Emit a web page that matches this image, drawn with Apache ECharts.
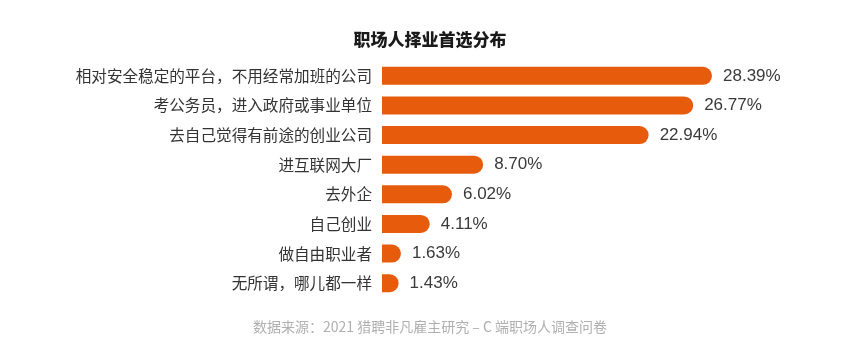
<!DOCTYPE html>
<html>
<head>
<meta charset="utf-8">
<script src="https://cdn.jsdelivr.net/npm/echarts@6/dist/echarts.min.js"></script>
<style>html,body{margin:0;padding:0;background:#fff;}#c{width:860px;height:347px;}</style>
</head>
<body>
<div id="c"></div>
<script>
const categories = [
  '相对安全稳定的平台，不用经常加班的公司',
  '考公务员，进入政府或事业单位',
  '去自己觉得有前途的创业公司',
  '进互联网大厂',
  '去外企',
  '自己创业',
  '做自由职业者',
  '无所谓，哪儿都一样'
];
const values = [28.39, 26.77, 22.94, 8.70, 6.02, 4.11, 1.63, 1.43];
const titleText = '职场人择业首选分布';
const sourceText = '数据来源：2021 猎聘非凡雇主研究 – C 端职场人调查问卷';

const font = '"Noto Sans CJK SC", "Noto Sans", sans-serif';
const numFont = '"Liberation Sans", Arial, sans-serif';
const chart = echarts.init(document.getElementById('c'), null, {renderer: 'canvas'});
chart.setOption({
  backgroundColor: '#fff',
  animation: false,
  title: [
    {text: titleText, left: 'center', top: 26,
     textStyle: {fontFamily: font, fontSize: 17, fontWeight: 900, color: '#1a1a1a'}},
    {text: sourceText, left: 'center', top: 315,
     textStyle: {fontFamily: font, fontSize: 14, fontWeight: 'normal', color: '#b0b0b0'}}
  ],
  grid: {left: 382, right: 148, top: 61, bottom: 49, containLabel: false},
  xAxis: {type: 'value', min: 0, max: 'dataMax', show: false},
  yAxis: {
    type: 'category', data: categories, inverse: true,
    axisLine: {show: false}, axisTick: {show: false}, splitLine: {show: false},
    axisLabel: {margin: 10, fontFamily: font, fontSize: 15.6, color: '#333'}
  },
  series: [{
    type: 'bar', data: values, barWidth: 18,
    itemStyle: {color: '#e65c0c', borderRadius: [0, 9, 9, 0]},
    label: {show: true, position: 'right', distance: 11, fontFamily: numFont, fontSize: 17, color: '#3a3a3a',
      formatter: p => p.value.toFixed(2) + '%'}
  }]
});
</script>
</body>
</html>
